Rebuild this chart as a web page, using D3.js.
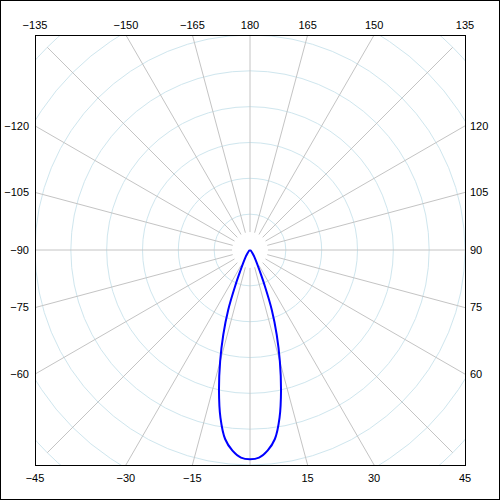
<!DOCTYPE html>
<html>
<head>
<meta charset="utf-8">
<script src="https://cdn.jsdelivr.net/npm/d3@7"></script>
<style>
  html, body { margin: 0; padding: 0; background: #fff; }
  svg { display: block; }
  .label { font-family: 'Liberation Sans', Arial, sans-serif; font-size: 11px; fill: #000; }
</style>
</head>
<body>
<svg class="polar-chart"></svg>
<script>
// angles of the measured plane (0 = straight down, positive to the right)
let curveAngles = [-90, -80, -70, -60, -55, -50, -45, -40, -37.5, -35, -32.5, -30, -27.5, -25, -22.5, -20, -17.5, -15, -12.5, -10, -7.5, -5, -2.5,
  0, 2.5, 5, 7.5, 10, 12.5, 15, 17.5, 20, 22.5, 25, 27.5, 30, 32.5, 35, 37.5, 40, 45, 50, 55, 60, 70, 80, 90];
// intensity (scale: 600 = edge of the plot)
let curveValues = [0, 0, 0, 0, 1, 3, 5, 9, 12, 16, 22, 30, 42, 63, 106, 178, 248, 322, 400, 475, 532, 562, 580,
  584, 580, 562, 532, 475, 400, 322, 248, 178, 106, 63, 42, 30, 22, 16, 12, 9, 5, 3, 1, 0, 0, 0, 0];

let spokeAngles = [0, 15, 30, 45, 60, 75, 90, 105, 120, 135, 150, 165, 180, 195, 210, 225, 240, 255, 270, 285, 300, 315, 330, 345];
let ringValues = [100, 200, 300, 400, 500, 600, 700, 800];
let labelAngles = [-135, -150, -165, 180, 165, 150, 135, -120, -105, -90, -75, -60, 120, 105, 90, 75, 60, -45, -30, -15, 15, 30, 45];

let width = 500, height = 500,
  cx = 250, cy = 250, half = 215;

let svg = d3.select('.polar-chart')
  .attr('width', width)
  .attr('height', height);

// outer frame
svg.append('rect')
  .attr('x', 0.5)
  .attr('y', 0.5)
  .attr('width', width - 1)
  .attr('height', height - 1)
  .attr('fill', 'none')
  .attr('stroke', '#000');

svg.append('clipPath')
  .attr('id', 'plot-clip')
  .append('rect')
  .attr('x', cx - half)
  .attr('y', cy - half)
  .attr('width', half * 2)
  .attr('height', half * 2);

let rScale = d3.scaleLinear()
  .domain([0, 600])
  .range([0, half]);

let toRad = (a) => a * Math.PI / 180;

let grid = svg.append('g')
  .attr('clip-path', 'url(#plot-clip)')
  .append('g')
  .attr('transform', 'translate(' + cx + ',' + cy + ')');

// rings
grid.selectAll('.ring')
  .data(ringValues)
  .enter()
  .append('circle')
  .attr('class', 'ring')
  .attr('r', (d) => rScale(d))
  .attr('fill', 'none')
  .attr('stroke', '#cfe6ee');

// spokes, starting half a ring out from the centre
let rInner = rScale(ringValues[0] / 2), rOuter = rScale(ringValues[ringValues.length - 1]);
grid.selectAll('.spoke')
  .data(spokeAngles)
  .enter()
  .append('line')
  .attr('class', 'spoke')
  .attr('x1', (d) => rInner * Math.sin(toRad(d)))
  .attr('y1', (d) => rInner * Math.cos(toRad(d)))
  .attr('x2', (d) => rOuter * Math.sin(toRad(d)))
  .attr('y2', (d) => rOuter * Math.cos(toRad(d)))
  .attr('stroke', '#c4c4c4');

// intensity curve
let points = curveAngles.map((a, i) => ({angle: a, value: curveValues[i]}));

let line = d3.lineRadial()
  .angle((d) => Math.PI - toRad(d.angle))
  .radius((d) => rScale(d.value))
  .curve(d3.curveCatmullRom);

grid.append('path')
  .datum(points)
  .attr('d', line)
  .attr('fill', 'none')
  .attr('stroke', '#0000ff')
  .attr('stroke-width', 2)
  .attr('stroke-linejoin', 'round');

// plot border
svg.append('rect')
  .attr('x', cx - half + 0.5)
  .attr('y', cy - half + 0.5)
  .attr('width', half * 2)
  .attr('height', half * 2)
  .attr('fill', 'none')
  .attr('stroke', '#000');

// angle labels where each spoke meets the border
let labelPos = function (a) {
  let sx = Math.sin(toRad(a)), sy = Math.cos(toRad(a));
  let t = half / Math.max(Math.abs(sx), Math.abs(sy));
  let x = cx + t * sx, y = cy + t * sy;
  if (Math.abs(sy) >= Math.abs(sx) - 1e-9) {
    return sy < 0
      ? {x: x, y: cy - half - 6, anchor: 'middle', dy: '0'}
      : {x: x, y: cy + half + 17, anchor: 'middle', dy: '0'};
  }
  return sx < 0
    ? {x: cx - half - 6, y: y, anchor: 'end', dy: '0.35em'}
    : {x: cx + half + 5, y: y, anchor: 'start', dy: '0.35em'};
};

svg.selectAll('.label')
  .data(labelAngles)
  .enter()
  .append('text')
  .attr('class', 'label')
  .each(function (d) {
    let p = labelPos(d);
    d3.select(this)
      .attr('x', p.x)
      .attr('y', p.y)
      .attr('dy', p.dy)
      .attr('text-anchor', p.anchor);
  })
  .text((d) => d < 0 ? '\u2212' + Math.abs(d) : d);
</script>
</body>
</html>
